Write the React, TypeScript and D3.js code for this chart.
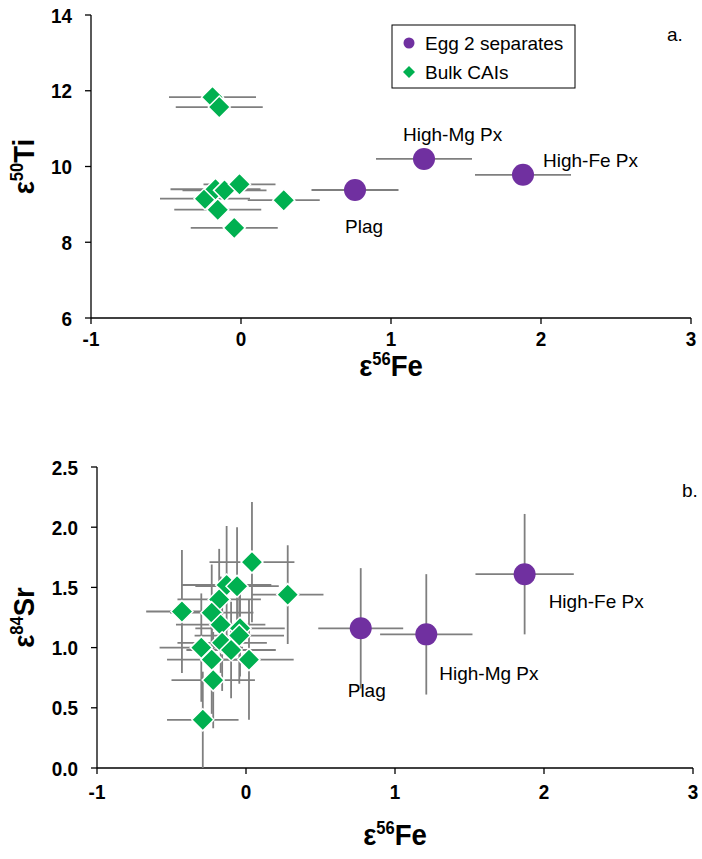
import React from "react";
import * as d3 from "d3";

// Panel a: ε56Fe vs ε50Ti
const eggLabels = ["Plag", "High-Mg Px", "High-Fe Px"];
const eggFeA = [0.76, 1.22, 1.88];
const eggTiA = [9.38, 10.2, 9.78];
const eggFeErrA = [0.29, 0.32, 0.32];

const caiFeA = [-0.19, -0.145, -0.24, -0.17, -0.11, -0.01, -0.155, -0.045, 0.285];
const caiTiA = [11.83, 11.57, 9.15, 9.4, 9.37, 9.53, 8.86, 8.38, 9.11];
const caiFeErrA = [0.29, 0.29, 0.3, 0.3, 0.28, 0.24, 0.29, 0.29, 0.24];

// Panel b: ε56Fe vs ε84Sr
const eggFeB = [0.77, 1.21, 1.87];
const eggSrB = [1.16, 1.11, 1.61];
const eggFeErrB = [0.285, 0.31, 0.33];
const eggSrErrB = [0.5, 0.5, 0.5];

const caiFeB = [0.04, 0.28, -0.43, -0.13, -0.06, -0.18, -0.23, -0.17, -0.04, -0.045, -0.3, -0.16, -0.1, -0.23, 0.02, -0.22, -0.29];
const caiSrB = [1.71, 1.44, 1.3, 1.52, 1.51, 1.4, 1.29, 1.19, 1.16, 1.1, 1.0, 1.04, 0.98, 0.9, 0.9, 0.73, 0.4];
const caiFeErrB = [0.285, 0.24, 0.24, 0.3, 0.28, 0.28, 0.28, 0.3, 0.3, 0.3, 0.28, 0.3, 0.3, 0.3, 0.3, 0.28, 0.24];
const caiSrErrB = [0.5, 0.41, 0.51, 0.49, 0.49, 0.42, 0.4, 0.4, 0.4, 0.4, 0.45, 0.4, 0.4, 0.45, 0.5, 0.4, 0.4];

const xTicks = [-1, 0, 1, 2, 3];
const yTicksA = [6, 8, 10, 12, 14];
const yTicksB = [0, 0.5, 1.0, 1.5, 2.0, 2.5];

const PURPLE = "#7030a0";
const GREEN = "#00b050";
const GRAY = "#7f7f7f";
const FONT = "'Liberation Sans', Arial, sans-serif";

function diamond(cx: number, cy: number, r: number) {
  return `M${cx},${cy - r}L${cx + r},${cy}L${cx},${cy + r}L${cx - r},${cy}Z`;
}

type Panel = {
  x: d3.ScaleLinear<number, number>;
  y: d3.ScaleLinear<number, number>;
  yTicks: number[];
  yFmt: (v: number) => string;
  yTitleSup: string;
  yTitleMain: string;
  tickDy: number;
  titleDy: number;
};

function Axes({ x, y, yTicks, yFmt, yTitleSup, yTitleMain, tickDy, titleDy }: Panel) {
  const [x0, x1] = x.range();
  const [yb, yt] = y.range();
  return (
    <g>
      <line x1={x0} x2={x1} y1={yb} y2={yb} stroke="#000" strokeWidth={1.3} />
      <line x1={x0} x2={x0} y1={yb} y2={yt} stroke="#000" strokeWidth={1.3} />
      {xTicks.map((t) => (
        <g key={"x" + t}>
          <line x1={x(t)} x2={x(t)} y1={yb} y2={yb + 6} stroke="#000" strokeWidth={1.3} />
          <text
            transform={`translate(${x(t)},${yb + tickDy}) scale(0.9,1)`}
            textAnchor="middle"
            fontFamily={FONT}
            fontWeight="bold"
            fontSize={21}
          >
            {t}
          </text>
        </g>
      ))}
      {yTicks.map((t) => (
        <g key={"y" + t}>
          <line x1={x0 - 6} x2={x0} y1={y(t)} y2={y(t)} stroke="#000" strokeWidth={1.3} />
          <text
            transform={`translate(${x0 - 19},${y(t) + 7.5}) scale(0.9,1)`}
            textAnchor="end"
            fontFamily={FONT}
            fontWeight="bold"
            fontSize={21}
          >
            {yFmt(t)}
          </text>
        </g>
      ))}
      <text
        transform={`translate(${(x0 + x1) / 2},${yb + titleDy}) scale(0.92,1)`}
        textAnchor="middle"
        fontFamily={FONT}
        fontWeight="bold"
        fontSize={30}
      >
        ε<tspan fontSize={18} dy={-11}>56</tspan>
        <tspan dy={11}>Fe</tspan>
      </text>
      <text
        transform={`translate(34,${(yb + yt) / 2}) rotate(-90) scale(0.92,1)`}
        textAnchor="middle"
        fontFamily={FONT}
        fontWeight="bold"
        fontSize={30}
      >
        ε<tspan fontSize={18} dy={-11}>{yTitleSup}</tspan>
        <tspan dy={11}>{yTitleMain}</tspan>
      </text>
    </g>
  );
}

export default function App() {
  const W = 702;
  const H = 859;

  const xA = d3.scaleLinear().domain([-1, 3]).range([91, 691]);
  const yA = d3.scaleLinear().domain([6, 14]).range([318, 15]);
  const xB = d3.scaleLinear().domain([-1, 3]).range([97, 693]);
  const yB = d3.scaleLinear().domain([0, 2.5]).range([768, 467]);

  const R = 11;
  const LF = 19;

  return (
    <svg width={W} height={H} style={{ display: "block", position: "absolute", left: 0, top: 0, background: "#fff" }}>
      <defs>
        <clipPath id="clipA">
          <rect x={91} y={0} width={620} height={318} />
        </clipPath>
        <clipPath id="clipB">
          <rect x={97} y={440} width={620} height={328} />
        </clipPath>
      </defs>
      <rect width={W} height={H} fill="#fff" />

      {/* Panel a */}
      <Axes x={xA} y={yA} yTicks={yTicksA} yFmt={(v) => String(v)} yTitleSup="50" yTitleMain="Ti" tickDy={28} titleDy={58} />
      <g clipPath="url(#clipA)">
        {eggFeA.map((v, i) => (
          <line key={"ea" + i} x1={xA(v - eggFeErrA[i])} x2={xA(v + eggFeErrA[i])} y1={yA(eggTiA[i])} y2={yA(eggTiA[i])} stroke={GRAY} strokeWidth={1.8} />
        ))}
        {caiFeA.map((v, i) => (
          <line key={"ca" + i} x1={xA(v - caiFeErrA[i])} x2={xA(v + caiFeErrA[i])} y1={yA(caiTiA[i])} y2={yA(caiTiA[i])} stroke={GRAY} strokeWidth={1.8} />
        ))}
        {eggFeA.map((v, i) => (
          <circle key={"pa" + i} cx={xA(v)} cy={yA(eggTiA[i])} r={R} fill={PURPLE} />
        ))}
        {caiFeA.map((v, i) => (
          <path key={"da" + i} d={diamond(xA(v), yA(caiTiA[i]), R)} fill={GREEN} stroke="#fff" strokeWidth={1.5} />
        ))}
      </g>
      <text x={xA(eggFeA[0]) - 10} y={yA(eggTiA[0]) + 43} fontFamily={FONT} fontSize={LF}>{eggLabels[0]}</text>
      <text x={xA(eggFeA[1]) - 21} y={yA(eggTiA[1]) - 18} fontFamily={FONT} fontSize={LF}>{eggLabels[1]}</text>
      <text x={xA(eggFeA[2]) + 20} y={yA(eggTiA[2]) - 8} fontFamily={FONT} fontSize={LF}>{eggLabels[2]}</text>
      <text x={667} y={41} fontFamily={FONT} fontSize={LF}>a.</text>

      {/* Legend */}
      <rect x={392} y={25} width={183} height={63} fill="#fff" stroke="#000" strokeWidth={1} />
      <circle cx={409} cy={43} r={5.5} fill={PURPLE} />
      <text x={425} y={50} fontFamily={FONT} fontSize={LF}>Egg 2 separates</text>
      <path d={diamond(409, 72, 6)} fill={GREEN} />
      <text x={425} y={79} fontFamily={FONT} fontSize={LF}>Bulk CAIs</text>

      {/* Panel b */}
      <Axes x={xB} y={yB} yTicks={yTicksB} yFmt={(v) => v.toFixed(1)} yTitleSup="84" yTitleMain="Sr" tickDy={31} titleDy={77} />
      <g clipPath="url(#clipB)">
        {caiFeB.map((v, i) => (
          <g key={"cb" + i}>
            <line x1={xB(v - caiFeErrB[i])} x2={xB(v + caiFeErrB[i])} y1={yB(caiSrB[i])} y2={yB(caiSrB[i])} stroke={GRAY} strokeWidth={1.8} />
            <line x1={xB(v)} x2={xB(v)} y1={yB(caiSrB[i] - caiSrErrB[i])} y2={yB(caiSrB[i] + caiSrErrB[i])} stroke={GRAY} strokeWidth={1.8} />
          </g>
        ))}
        {eggFeB.map((v, i) => (
          <g key={"eb" + i}>
            <line x1={xB(v - eggFeErrB[i])} x2={xB(v + eggFeErrB[i])} y1={yB(eggSrB[i])} y2={yB(eggSrB[i])} stroke={GRAY} strokeWidth={1.8} />
            <line x1={xB(v)} x2={xB(v)} y1={yB(eggSrB[i] - eggSrErrB[i])} y2={yB(eggSrB[i] + eggSrErrB[i])} stroke={GRAY} strokeWidth={1.8} />
          </g>
        ))}
        {eggFeB.map((v, i) => (
          <circle key={"pb" + i} cx={xB(v)} cy={yB(eggSrB[i])} r={R} fill={PURPLE} />
        ))}
        {caiFeB.map((v, i) => (
          <path key={"db" + i} d={diamond(xB(v), yB(caiSrB[i]), R)} fill={GREEN} stroke="#fff" strokeWidth={1.5} />
        ))}
      </g>
      <text x={xB(eggFeB[0]) - 13} y={yB(eggSrB[0]) + 69} fontFamily={FONT} fontSize={LF}>{eggLabels[0]}</text>
      <text x={xB(eggFeB[1]) + 13} y={yB(eggSrB[1]) + 46} fontFamily={FONT} fontSize={LF}>{eggLabels[1]}</text>
      <text x={xB(eggFeB[2]) + 24} y={yB(eggSrB[2]) + 34} fontFamily={FONT} fontSize={LF}>{eggLabels[2]}</text>
      <text x={682} y={497} fontFamily={FONT} fontSize={LF}>b.</text>
    </svg>
  );
}
